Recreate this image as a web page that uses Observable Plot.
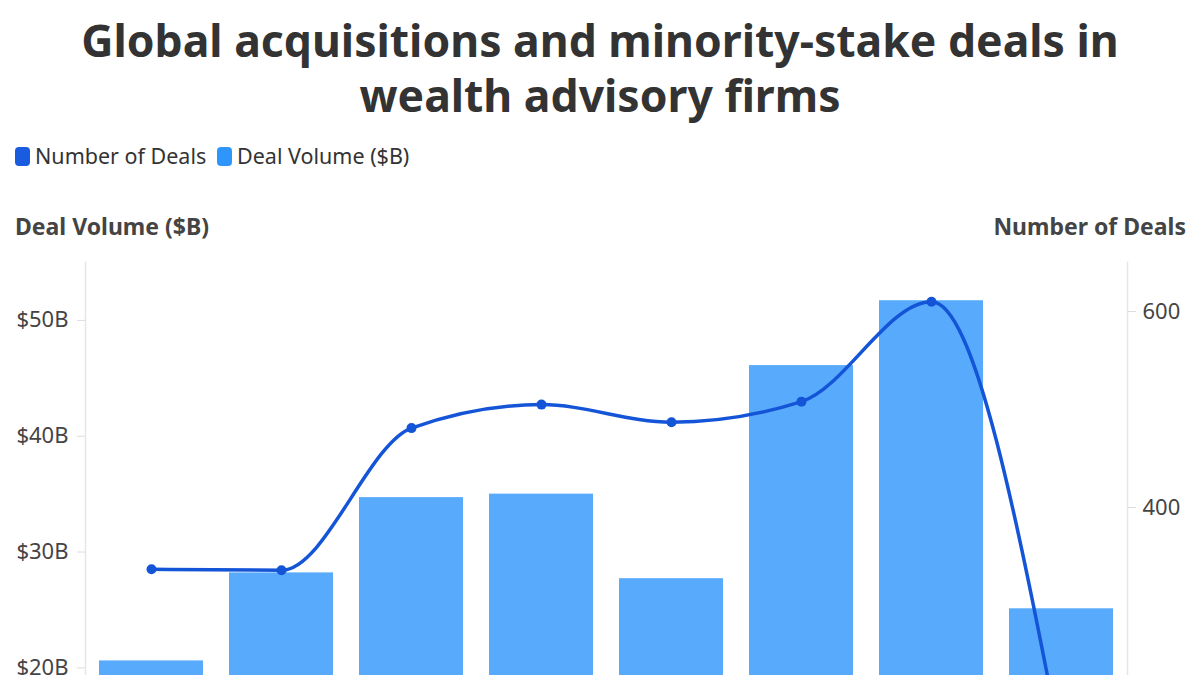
<!DOCTYPE html>
<html>
<head>
<meta charset="utf-8">
<script src="https://cdn.jsdelivr.net/npm/d3@7"></script>
<script src="https://cdn.jsdelivr.net/npm/@observablehq/plot@0.6"></script>
<style>
  html, body { margin: 0; padding: 0; background: #fff; overflow: hidden; }
  body { width: 1200px; height: 675px; position: relative; font-family: "Noto Sans", sans-serif; }
  #header { position: relative; width: 1200px; height: 250px; }
  #title { position: absolute; left: 0; top: 12px; width: 1200px; text-align: center;
    font-size: 44.5px; line-height: 55px; font-weight: 700; color: #333; }
  .leg { position: absolute; top: 145px; font-size: 21.5px; line-height: 22px; color: #333; white-space: nowrap; }
  .sw { position: absolute; top: 147px; width: 15px; height: 19px; border-radius: 4px; }
  .axt { position: absolute; top: 215px; font-size: 23px; line-height: 23px; font-weight: 700; color: #444; white-space: nowrap; }
  #chart svg { display: block; }
</style>
</head>
<body>
<div id="header">
  <div id="title">Global acquisitions and minority-stake deals in<br>wealth advisory firms</div>
  <div class="sw" style="left:15px;background:#1a5ce0"></div>
  <div class="leg" style="left:35px">Number of Deals</div>
  <div class="sw" style="left:217px;background:#2e96fb"></div>
  <div class="leg" style="left:237px">Deal Volume ($B)</div>
  <div class="axt" style="left:15px">Deal Volume ($B)</div>
  <div class="axt" style="right:14px">Number of Deals</div>
</div>
<div id="chart"></div>
<script>
const years = ["2017", "2018", "2019", "2020", "2021", "2022", "2023", "2024"];
const dealVolume = [20.6, 28.2, 34.7, 35.0, 27.7, 46.1, 51.7, 25.1];
const dealCount = [337, 336, 481, 505, 487, 508, 610, 155];
const volumeTicks = [0, 10, 20, 30, 40, 50];
const countTicks = [0, 200, 400, 600];

const volMax = 55, countMax = 650;
const k = volMax / countMax;
const data = years.map((y, i) => ({year: y, volume: dealVolume[i], count: dealCount[i]}));

const lineColor = "#1455d8";
const barColor = "#2e96fb";

const plot = Plot.plot({
  width: 1200,
  height: 694,
  marginLeft: 85,
  marginRight: 73,
  marginTop: 12,
  marginBottom: 45,
  style: {fontFamily: "Noto Sans, sans-serif", fontSize: "22px", color: "#444", background: "#fff"},
  x: {domain: years, paddingInner: 0.2, paddingOuter: 0.1, label: null},
  y: {domain: [0, volMax], label: null},
  marks: [
    Plot.frame({anchor: "left", stroke: "#e6e6e6", strokeWidth: 1.5}),
    Plot.frame({anchor: "right", stroke: "#e6e6e6", strokeWidth: 1.5}),
    Plot.barY(data, {x: "year", y: "volume", fill: barColor, fillOpacity: 0.8}),
    Plot.line(data, {x: "year", y: d => d.count * k, stroke: lineColor, strokeWidth: 3.5, curve: "monotone-x"}),
    Plot.dot(data, {x: "year", y: d => d.count * k, r: 5, fill: lineColor}),
    Plot.axisY(volumeTicks, {anchor: "left", tickSize: 8, tickPadding: 9, stroke: "#ddd",
      tickFormat: d => `$${d}B`, fill: "#444", label: null}),
    Plot.axisY(countTicks, {anchor: "right", y: d => d * k, tickSize: 8, tickPadding: 7, stroke: "#ddd",
      tickFormat: d => `${d}`, fill: "#444", label: null}),
    Plot.axisX({tickSize: 0, tickPadding: 10, fill: "#444", label: null})
  ]
});
document.getElementById("chart").appendChild(plot);
</script>
</body>
</html>
